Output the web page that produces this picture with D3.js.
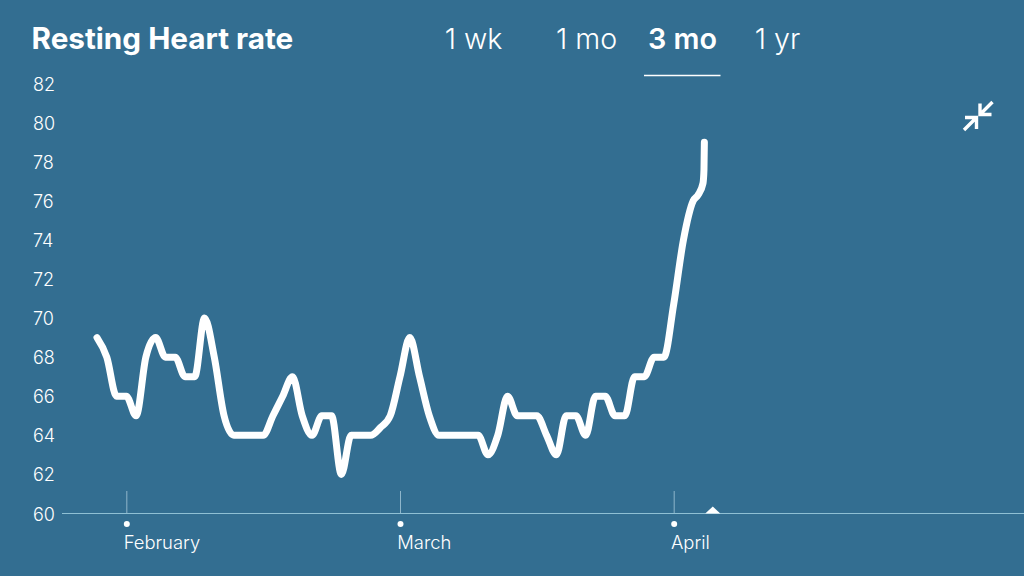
<!DOCTYPE html>
<html><head><meta charset="utf-8">
<script src="https://cdn.jsdelivr.net/npm/d3@7/dist/d3.min.js"></script>
<style>html,body{margin:0;padding:0;background:#336e91;overflow:hidden}svg{display:block}text{font-family:Inter,"Noto Sans",sans-serif;fill:#fff}</style>
</head><body><svg width="1024" height="576"></svg>
<script>
const heartRate=[69,68,66,66,65,68,69,68,68,67,67,70,68,65,64,64,64,64,65,66,67,65,64,65,65,62,64,64,64,64.4,65,67,69,67,65,64,64,64,64,64,63,64,66,65,65,65,64,63,65,65,64,66,66,65,65,67,67,68,68,70.7,74,76,76.3,76.9,77.6,79];
const days=[0,1,2,3,4,5,6,7,8,9,10,11,12,13,14,15,16,17,18,19,20,21,22,23,24,25,26,27,28,29,30,31,32,33,34,35,36,37,38,39,40,41,42,43,44,45,46,47,48,49,50,51,52,53,54,55,56,57,58,59,60,61,61.5,62,62.1,62.14];
const yTicks=[60,62,64,66,68,70,72,74,76,78,80,82];
const monthNames=["February","March","April"];
const monthDays=[3,31,59];
const ranges=["1 wk","1 mo","3 mo","1 yr"];
const selectedRange="3 mo";
const title="Resting Heart rate";
const cursorDay=63;

const svg=d3.select("svg");
const x=d3.scaleLinear().domain([0,62]).range([97,703]);
const y=d3.scaleLinear().domain([60,82]).range([513.5,83.5]);
const tabX=d3.scaleOrdinal().domain(ranges).range([473.5,586.5,682.5,777.5]);

svg.append("rect").attr("width",1024).attr("height",576).attr("fill","#336e91");
svg.append("text").attr("x",31.5).attr("y",48.5).attr("font-size",29.7).attr("font-weight",650).text(title);

svg.selectAll(".tab").data(ranges).join("text").attr("class","tab")
  .attr("x",d=>tabX(d)).attr("y",49).attr("text-anchor","middle").attr("font-size",d=>d===selectedRange?28.8:28.6)
  .attr("font-weight",d=>d===selectedRange?600:300).text(d=>d);
svg.append("line").attr("x1",644).attr("x2",720.5).attr("y1",75.5).attr("y2",75.5).attr("stroke","#fff").attr("stroke-width",1.5);

svg.selectAll(".yl").data(yTicks).join("text").attr("class","yl")
  .attr("x",33).attr("y",d=>y(d)+7).attr("font-size",18).attr("font-weight",300).text(d=>d);

svg.append("line").attr("x1",62).attr("x2",1024).attr("y1",y(60)).attr("y2",y(60)).attr("stroke","#8fc0d4").attr("stroke-width",1);
const m=svg.selectAll(".m").data(monthNames).join("g").attr("class","m").attr("transform",(d,i)=>`translate(${x(monthDays[i])},0)`);
m.append("line").attr("x1",.5).attr("x2",.5).attr("y1",491).attr("y2",513).attr("stroke","#8fb6cb").attr("stroke-width",1);
m.append("circle").attr("cx",.5).attr("cy",524).attr("r",3).attr("fill","#fff");
m.append("text").attr("x",-2.7).attr("y",549).attr("font-size",18.4).attr("font-weight",300).text(d=>d);

const cx=x(cursorDay);
svg.append("path").attr("d",`M${cx-7.5},${y(60)}L${cx},${y(60)-7}L${cx+7.5},${y(60)}Z`).attr("fill","#fff");

const line=d3.line().x((d,i)=>x(days[i])).y(d=>y(d)).curve(d3.curveMonotoneX);
svg.append("path").datum(heartRate).attr("d",line).attr("fill","none").attr("stroke","#fff").attr("stroke-width",7).attr("stroke-linecap","round").attr("stroke-linejoin","round");

const ic=svg.append("g").attr("fill","none").attr("stroke","#fff").attr("stroke-width",3.4);
ic.append("path").attr("d","M992.5,102L981,113.5M980,103.5V114.5H991.5");
ic.append("path").attr("d","M964,130L975.5,118.5M965,117.5H976.5V129");
</script></body></html>
